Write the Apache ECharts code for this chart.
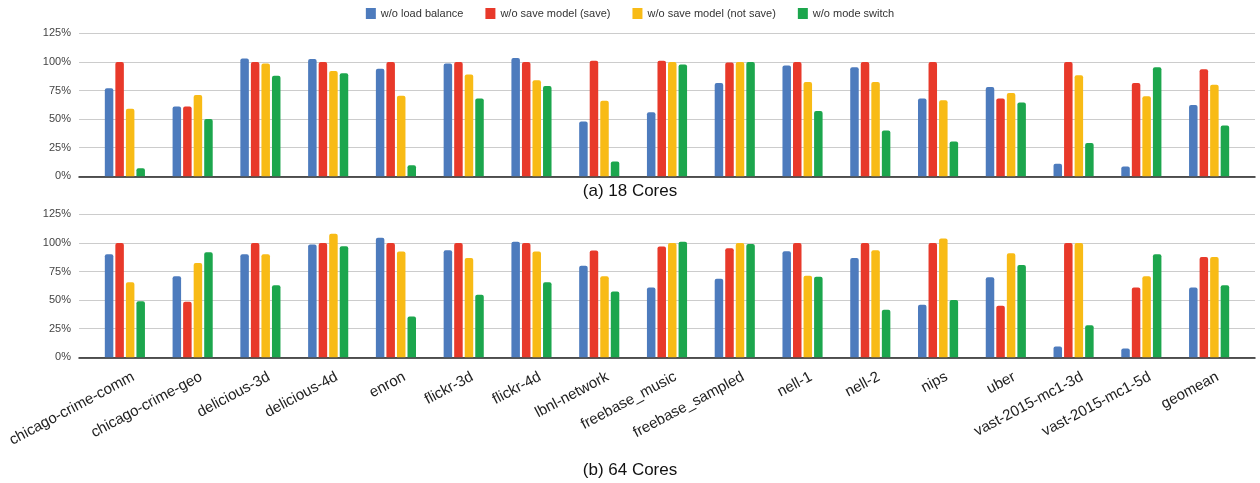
<!DOCTYPE html>
<html><head><meta charset="utf-8">
<script src="https://cdn.jsdelivr.net/npm/echarts@6/dist/echarts.min.js"></script>
<style>html,body{margin:0;padding:0;background:#fff}#c{width:1260px;height:483px}</style>
</head><body><div id="c"></div>
<script>
const categories = ['chicago-crime-comm','chicago-crime-geo','delicious-3d','delicious-4d','enron','flickr-3d','flickr-4d','lbnl-network','freebase_music','freebase_sampled','nell-1','nell-2','nips','uber','vast-2015-mc1-3d','vast-2015-mc1-5d','geomean'];
const seriesNames = ['w/o load balance','w/o save model (save)','w/o save model (not save)','w/o mode switch'];
const colors = ['#4d7bbd','#e8392a','#f8bb16','#1ca64d'];
const yTicks = [0,25,50,75,100,125];
const titles = ['(a) 18 Cores','(b) 64 Cores'];

// 18 cores
const c18_loadBalance = [77,61,103,102.6,94,98.5,103.5,48,56,81.5,96.8,95.3,68,78,11,8.5,62.3];
const c18_saveModelSave = [100,61,100,100,100,100,100,101,101,99.4,100,100,100,68,100,81.6,93.6];
const c18_saveModelNotSave = [59,71,98.5,92,70.5,89,84,66,100,100,82.5,82.5,66.4,72.8,88.3,70,80];
const c18_modeSwitch = [7,50,88,90,9.6,68,79,13,97.7,100,57,40,30.4,64.6,29,95.3,44.4];

// 64 cores
const c64_loadBalance = [90,70.8,90,98.5,104.4,93.6,101,80,61,68.7,92.7,86.8,46,70,9.4,7.6,61];
const c64_saveModelSave = [100,48.5,100,100,100,100,100,93.3,96.8,95.3,100,100,100,45,100,61,87.7];
const c64_saveModelNotSave = [65.5,82.5,90,108,92.4,86.8,92.4,70.8,100,100,71.3,93.6,103.8,91,100,70.8,87.7];
const c64_modeSwitch = [49,91.8,63,97,35.7,54.7,65.5,57.6,101,99,70.5,41.5,50,80.7,28,90,63];

const panels = [
  [c18_loadBalance,c18_saveModelSave,c18_saveModelNotSave,c18_modeSwitch],
  [c64_loadBalance,c64_saveModelSave,c64_saveModelNotSave,c64_modeSwitch]
];
const tops = [33.3, 214.3];
const H = 143;
const font = 'Liberation Sans, Arial, sans-serif';

const grid = [], xAxis = [], yAxis = [], series = [];
panels.forEach((p, i) => {
  grid.push({left: 79, right: 5, top: tops[i], height: H, containLabel: false, outerBoundsMode: 'none'});
  grid.push({left: 91, right: 17, top: tops[i], height: H, containLabel: false, outerBoundsMode: 'none'});
  const gBg = i*2, gBar = i*2+1;
  xAxis.push({gridIndex: gBg, type: 'value', min: 0, max: 1, show: true,
    axisLine: {show: true, lineStyle: {color: '#222', width: 1.5}},
    axisTick: {show: false}, axisLabel: {show: false}, splitLine: {show: false}});
  xAxis.push({gridIndex: gBar, type: 'category', data: categories,
    axisLine: {show: false}, axisTick: {show: false}, axisLabel: {show: false}});
  yAxis.push({gridIndex: gBg, type: 'value', min: yTicks[0], max: yTicks[yTicks.length-1], interval: 25,
    axisLine: {show: false}, axisTick: {show: false},
    axisLabel: {formatter: '{value}%', fontSize: 11, color: '#444', fontFamily: font, margin: 8},
    splitLine: {lineStyle: {color: '#cccccc', width: 1}}});
  yAxis.push({gridIndex: gBar, type: 'value', min: 0, max: 125, interval: 25, show: false, splitLine: {show: false}});
  p.forEach((vals, k) => {
    series.push({name: seriesNames[k], type: 'bar', xAxisIndex: gBar, yAxisIndex: gBar,
      data: vals, barWidth: 8.5, barGap: '24%',
      itemStyle: {color: colors[k], borderRadius: [2,2,0,0]}, z: 3});
  });
});
// label-only grid for bottom category names (slightly offset like the reference)
grid.push({left: 96, right: 12, top: tops[1], height: H, containLabel: false, outerBoundsMode: 'none'});
xAxis.push({gridIndex: 4, type: 'category', data: categories,
  axisLine: {show: false}, axisTick: {show: false}, splitLine: {show: false},
  axisLabel: {show: true, interval: 0, rotate: 28, fontSize: 15, color: '#222', fontFamily: font,
    margin: 12, verticalAlign: 'top', hideOverlap: false}});
yAxis.push({gridIndex: 4, type: 'value', min: 0, max: 125, show: false, splitLine: {show: false}});

const chart = echarts.init(document.getElementById('c'), null, {renderer: 'canvas'});
chart.setOption({
  animation: false,
  color: colors,
  legend: {top: 3, left: 'center', itemWidth: 10, itemHeight: 11, itemGap: 22, icon: 'rect',
    textStyle: {fontSize: 11, color: '#333', fontFamily: font}, data: seriesNames},
  title: [
    {text: titles[0], left: 'center', top: 178, textStyle: {fontSize: 17, fontWeight: 'normal', color: '#111', fontFamily: font}},
    {text: titles[1], left: 'center', top: 457, textStyle: {fontSize: 17, fontWeight: 'normal', color: '#111', fontFamily: font}}
  ],
  grid, xAxis, yAxis, series
});
</script></body></html>
